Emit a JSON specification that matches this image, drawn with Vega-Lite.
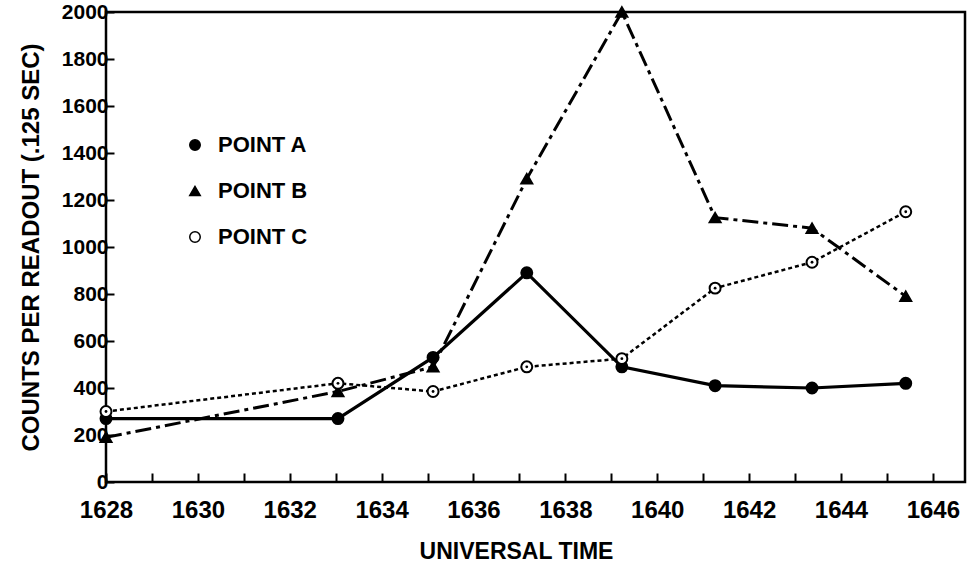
{
  "$schema": "https://vega.github.io/schema/vega-lite/v6.json",
  "width": 859,
  "height": 470,
  "autosize": "none",
  "padding": {"left": 106, "top": 12, "right": 7, "bottom": 86},
  "background": "white",
  "config": {
    "view": {"stroke": "black", "strokeWidth": 2.5},
    "font": "Liberation Sans",
    "axis": {
      "domain": false,
      "grid": false,
      "tickColor": "black",
      "tickWidth": 2,
      "labelColor": "black",
      "labelFont": "Liberation Sans",
      "labelFontWeight": "bold",
      "titleColor": "black",
      "titleFont": "Liberation Sans",
      "titleFontWeight": "bold"
    },
    "legend": {
      "labelFont": "Liberation Sans",
      "labelFontWeight": "bold",
      "labelFontSize": 22,
      "labelColor": "black",
      "labelOffset": 12,
      "rowPadding": 24,
      "symbolSize": 110
    }
  },
  "data": {
    "values": [
      {"series": "POINT A", "time": 1628.0, "counts": 270},
      {"series": "POINT A", "time": 1633.05, "counts": 270},
      {"series": "POINT A", "time": 1635.12, "counts": 530},
      {"series": "POINT A", "time": 1637.16, "counts": 890},
      {"series": "POINT A", "time": 1639.23, "counts": 490},
      {"series": "POINT A", "time": 1641.26, "counts": 410},
      {"series": "POINT A", "time": 1643.37, "counts": 400},
      {"series": "POINT A", "time": 1645.41, "counts": 420},
      {"series": "POINT B", "time": 1628.0, "counts": 190},
      {"series": "POINT B", "time": 1633.05, "counts": 385},
      {"series": "POINT B", "time": 1635.12, "counts": 490},
      {"series": "POINT B", "time": 1637.16, "counts": 1290},
      {"series": "POINT B", "time": 1639.23, "counts": 2000},
      {"series": "POINT B", "time": 1641.26, "counts": 1125},
      {"series": "POINT B", "time": 1643.37, "counts": 1080},
      {"series": "POINT B", "time": 1645.41, "counts": 790},
      {"series": "POINT C", "time": 1628.0, "counts": 300},
      {"series": "POINT C", "time": 1633.05, "counts": 420},
      {"series": "POINT C", "time": 1635.12, "counts": 385},
      {"series": "POINT C", "time": 1637.16, "counts": 490},
      {"series": "POINT C", "time": 1639.23, "counts": 525},
      {"series": "POINT C", "time": 1641.26, "counts": 825},
      {"series": "POINT C", "time": 1643.37, "counts": 935},
      {"series": "POINT C", "time": 1645.41, "counts": 1150}
    ]
  },
  "encoding": {
    "x": {
      "field": "time",
      "type": "quantitative",
      "scale": {"domain": [1628, 1646.7], "nice": false, "zero": false},
      "axis": {
        "title": "UNIVERSAL TIME",
        "titleFontSize": 23,
        "titleX": 410,
        "titleY": 58,
        "titleAlign": "center",
        "titleBaseline": "top",
        "values": [1628,1629,1630,1631,1632,1633,1634,1635,1636,1637,1638,1639,1640,1641,1642,1643,1644,1645,1646],
        "format": "d",
        "labelExpr": "datum.value % 2 == 0 ? datum.label : ''",
        "labelFontSize": 24,
        "tickSize": -9,
        "labelPadding": 25,
        "labelFlush": false
      }
    },
    "y": {
      "field": "counts",
      "type": "quantitative",
      "scale": {"domain": [0, 2000], "nice": false},
      "axis": {
        "title": "COUNTS PER READOUT (.125 SEC)",
        "titleFontSize": 24,
        "titlePadding": 18,
        "values": [0,200,400,600,800,1000,1200,1400,1600,1800,2000],
        "format": "d",
        "labelFontSize": 21,
        "tickSize": -8,
        "labelPadding": 6
      }
    }
  },
  "layer": [
    {
      "transform": [{"filter": "datum.series == 'POINT A'"}],
      "mark": {"type": "line", "color": "black", "strokeWidth": 3.2},
      "encoding": {}
    },
    {
      "transform": [{"filter": "datum.series == 'POINT B'"}],
      "mark": {"type": "line", "color": "black", "strokeWidth": 3, "strokeDash": [16, 5, 4, 5]},
      "encoding": {}
    },
    {
      "transform": [{"filter": "datum.series == 'POINT C'"}],
      "mark": {"type": "line", "color": "black", "strokeWidth": 2.5, "strokeDash": [4, 3]},
      "encoding": {}
    },
    {
      "mark": {"type": "point", "stroke": "black", "strokeWidth": 2, "size": 120, "opacity": 1, "filled": true},
      "encoding": {
        "shape": {
          "field": "series",
          "type": "nominal",
          "scale": {"domain": ["POINT A", "POINT B", "POINT C"], "range": ["circle", "triangle-up", "circle"]},
          "legend": {
            "title": null, "orient": "none", "legendX": 78, "legendY": 122,
            "encode": {"symbols": {"update": {"stroke": {"value": "black"}, "strokeWidth": {"value": 2}}}}
          }
        },
        "fill": {
          "field": "series",
          "type": "nominal",
          "scale": {"domain": ["POINT A", "POINT B", "POINT C"], "range": ["black", "black", "white"]},
          "legend": {
            "title": null, "orient": "none", "legendX": 78, "legendY": 122,
            "encode": {"symbols": {"update": {"stroke": {"value": "black"}, "strokeWidth": {"value": 2}}}}
          }
        }
      }
    },
    {
      "transform": [{"filter": "datum.series == 'POINT C'"}],
      "mark": {"type": "point", "filled": true, "color": "black", "size": 8, "opacity": 1}
    }
  ]
}
